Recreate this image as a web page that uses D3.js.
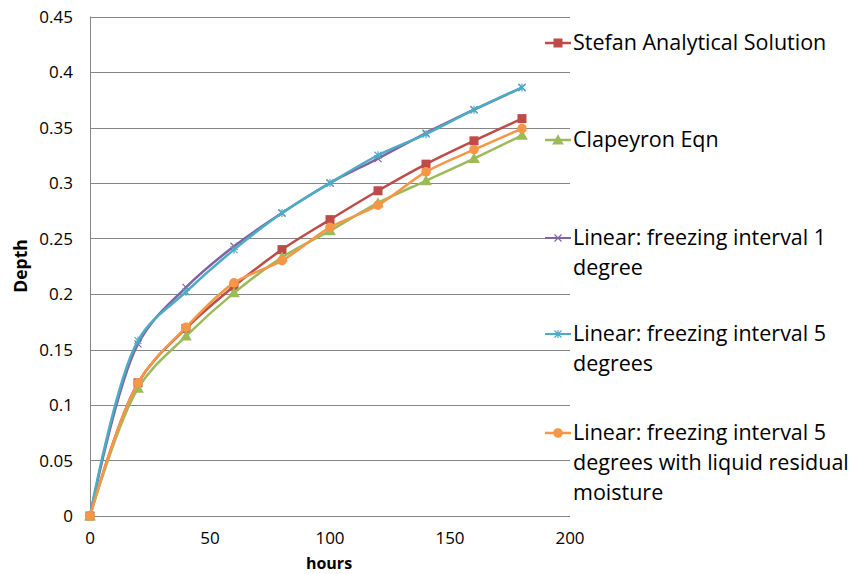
<!DOCTYPE html>
<meta charset="utf-8">
<style>
body {margin: 0; background: white;}
text {font-family: "Open Sans", "DejaVu Sans", sans-serif; fill: #000;}
.grid line {stroke: #868686; stroke-width: 1px;}
.tick text {font-size: 17px;}
.series {fill: none; stroke-width: 2.5px;}
</style>
<body>
<script src="https://d3js.org/d3.v7.min.js"></script>
<script>
var width = 851, height = 574
var hours = [0, 20, 40, 60, 80, 100, 120, 140, 160, 180]
var stefan = [0, 0.120, 0.169, 0.207, 0.240, 0.267, 0.293, 0.317, 0.338, 0.358]
var clapeyron = [0, 0.115, 0.162, 0.201, 0.233, 0.257, 0.282, 0.302, 0.322, 0.343]
var linear1 = [0, 0.155, 0.206, 0.243, 0.273, 0.300, 0.322, 0.345, 0.366, 0.386]
var linear5 = [0, 0.158, 0.202, 0.240, 0.273, 0.300, 0.325, 0.344, 0.366, 0.386]
var linear5res = [0, 0.120, 0.170, 0.210, 0.230, 0.260, 0.280, 0.310, 0.330, 0.349]
var xTicks = [0, 50, 100, 150, 200]
var yTicks = [0, 0.05, 0.1, 0.15, 0.2, 0.25, 0.3, 0.35, 0.4, 0.45]

var series = [
  {name: ["Stefan Analytical Solution"], values: stefan, color: "#BE4B48", marker: "square", ly: 43},
  {name: ["Clapeyron Eqn"], values: clapeyron, color: "#9BBB59", marker: "triangle", ly: 140},
  {name: ["Linear: freezing interval 1", "degree"], values: linear1, color: "#8064A2", marker: "x", ly: 238},
  {name: ["Linear: freezing interval 5", "degrees"], values: linear5, color: "#4BACC6", marker: "star", ly: 334},
  {name: ["Linear: freezing interval 5", "degrees with liquid residual", "moisture"], values: linear5res, color: "#F79646", marker: "circle", ly: 433}
]

var x = d3.scaleLinear().domain([0, 200]).range([90, 570])
var y = d3.scaleLinear().domain([0, 0.45]).range([516, 16.5])

var svg = d3.select("body").append("svg")
  .attr("width", width).attr("height", height)

// gridlines
svg.append("g").attr("class", "grid")
  .selectAll("line").data(yTicks).enter().append("line")
  .attr("x1", x(0)).attr("x2", x(200))
  .attr("y1", function(d) { return Math.round(y(d)) + 0.5 })
  .attr("y2", function(d) { return Math.round(y(d)) + 0.5 })
svg.append("line")
  .attr("x1", x(0) + 0.5).attr("x2", x(0) + 0.5)
  .attr("y1", y(0.45)).attr("y2", y(0))
  .attr("stroke", "#868686")

// tick labels
svg.append("g").attr("class", "tick")
  .selectAll("text").data(yTicks).enter().append("text")
  .attr("x", 73).attr("y", function(d) { return y(d) + 6 })
  .attr("text-anchor", "end")
  .text(function(d) { return d3.format("")(+d.toFixed(2)) })
svg.append("g").attr("class", "tick")
  .selectAll("text").data(xTicks).enter().append("text")
  .attr("x", function(d) { return x(d) }).attr("y", 544)
  .attr("text-anchor", "middle")
  .text(function(d) { return d })

svg.append("text").attr("x", 329).attr("y", 569)
  .attr("text-anchor", "middle").attr("font-weight", "bold").attr("font-size", 16)
  .text("hours")
svg.append("text").attr("transform", "translate(27,266) rotate(-90)")
  .attr("text-anchor", "middle").attr("font-weight", "bold").attr("font-size", 17.5)
  .text("Depth")

function marker(g, type, color, cx, cy) {
  if (type == "square") {
    g.append("rect").attr("x", cx - 4.5).attr("y", cy - 4.5).attr("width", 9).attr("height", 9)
      .attr("fill", color)
  } else if (type == "triangle") {
    g.append("path").attr("d", d3.symbol(d3.symbolTriangle, 60)()).attr("transform", "translate(" + cx + "," + (cy + 1) + ")")
      .attr("fill", color)
  } else if (type == "circle") {
    g.append("circle").attr("cx", cx).attr("cy", cy).attr("r", 4.8).attr("fill", color)
  } else if (type == "x") {
    g.append("path").attr("d", "M-3.5,-3.5L3.5,3.5M-3.5,3.5L3.5,-3.5")
      .attr("transform", "translate(" + cx + "," + cy + ")")
      .attr("stroke", color).attr("stroke-width", 1.2).attr("fill", "none")
  } else {
    g.append("path").attr("d", "M-3.5,-3.5L3.5,3.5M-3.5,3.5L3.5,-3.5M0,-4L0,4")
      .attr("transform", "translate(" + cx + "," + cy + ")")
      .attr("stroke", color).attr("stroke-width", 1.2).attr("fill", "none")
  }
}

var line = d3.line()
  .x(function(d, i) { return x(hours[i]) })
  .y(function(d) { return y(d) })
  .curve(d3.curveCatmullRom.alpha(0.5))

series.forEach(function(s) {
  var g = svg.append("g")
  var thin = s.marker == "x" || s.marker == "star"
  g.append("path").datum(s.values).attr("class", "series")
    .attr("stroke", s.color).attr("stroke-width", thin ? 2 : 2.5)
    .attr("d", line)
  s.values.forEach(function(v, i) { marker(g, s.marker, s.color, x(hours[i]), y(v)) })

  // legend
  var lg = svg.append("g")
  lg.append("line").attr("x1", 545).attr("x2", 571).attr("y1", s.ly).attr("y2", s.ly)
    .attr("stroke", s.color).attr("stroke-width", thin ? 2 : 2.5)
  marker(lg, s.marker, s.color, 558, s.ly)
  s.name.forEach(function(t, k) {
    lg.append("text").attr("x", 573).attr("y", s.ly + 7 + k * 30)
      .attr("font-size", 21.5).text(t)
  })
})
</script>
